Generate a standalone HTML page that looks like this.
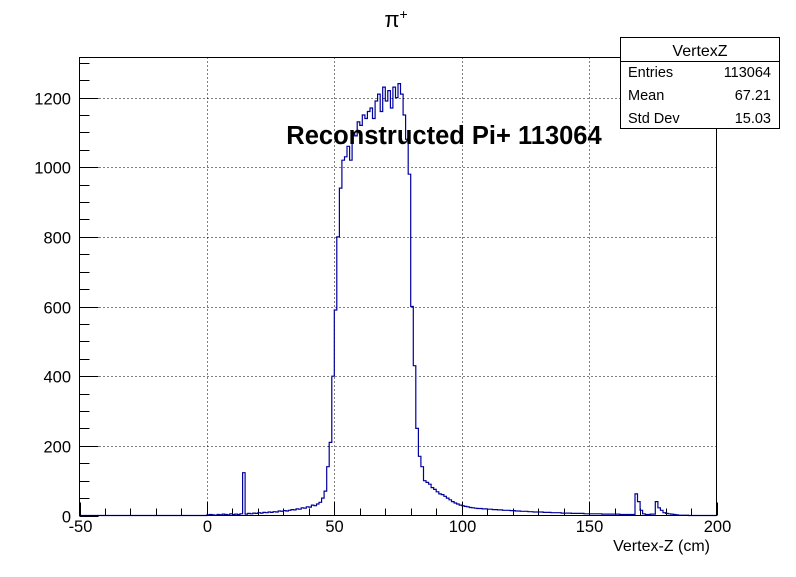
<!DOCTYPE html>
<html><head><meta charset="utf-8"><style>
body{margin:0;background:#fff;}
svg text{font-family:"Liberation Sans",sans-serif;}
</style></head><body>
<svg id="c" width="796" height="572" xmlns="http://www.w3.org/2000/svg">
<rect width="796" height="572" fill="#fff"/>
<text x="396" y="27" font-size="22" text-anchor="middle" font-family="Liberation Serif">π<tspan dy="-8" font-size="14">+</tspan></text>
<g id="grid"></g>
<g id="axes"></g>
<path id="hist" fill="none" stroke="#00009c" stroke-width="1.2"/>
<rect x="79.5" y="57.5" width="637" height="458" fill="none" stroke="#000"/>
<text x="444" y="144" font-size="25.5" font-weight="bold" text-anchor="middle">Reconstructed Pi+ 113064</text>
<text x="710" y="551" font-size="16" text-anchor="end">Vertex-Z (cm)</text>
<g>
<rect x="620.5" y="37.5" width="159" height="91" fill="#fff" stroke="#000"/>
<line x1="620" y1="61.5" x2="780" y2="61.5" stroke="#000"/>
<text x="700" y="56" font-size="16" text-anchor="middle">VertexZ</text>
<text x="628" y="77" font-size="14.5">Entries</text>
<text x="771" y="77" font-size="14.5" text-anchor="end">113064</text>
<text x="628" y="100" font-size="14.5">Mean</text>
<text x="771" y="100" font-size="14.5" text-anchor="end">67.21</text>
<text x="628" y="123" font-size="14.5">Std Dev</text>
<text x="771" y="123" font-size="14.5" text-anchor="end">15.03</text>
</g>
</svg>
<script>
const binStart = -50;
const binWidth = 1;
const counts = [
0,0,0,0,0,0,0,0,0,0,0,0,0,0,0,0,0,0,0,0,0,0,0,0,0,0,0,0,0,0,0,0,0,0,0,0,0,0,0,0,0,0,0,0,0,0,0,0,0,0,
2,3,2,1,3,2,4,3,2,5,3,4,3,5,123,
4,6,5,7,6,8,7,9,8,10,9,11,10,13,12,
14,13,15,17,16,19,18,22,21,25,24,30,28,33,38,
50,70,140,210,400,
590,800,940,1020,1030,1060,1020,1100,1090,1130,1120,1150,1140,1160,1170,1140,1190,1210,1160,1230,1190,1220,1170,1230,1200,1240,1210,1150,1080,980,
600,430,250,170,140,100,95,90,80,75,68,62,60,55,50,45,40,36,33,30,
28,26,25,23,22,21,20,20,19,19,
18,18,17,17,16,16,15,15,15,14,14,13,13,12,12,12,11,11,10,10,
10,10,9,9,9,8,8,8,8,7,7,7,7,6,6,6,6,6,5,5,
5,5,5,5,5,4,4,4,4,4,4,4,3,3,3,3,3,3,
62,40,15,5,3,3,4,4,40,22,15,8,6,5,4,3,2,
1,1,1,1,0,0,0,0,0,0,0,0,0,0,0
];
const xTicks = [-50,0,50,100,150,200];
const yTicks = [0,200,400,600,800,1000,1200];
const X0=79.5,X1=716.5,Y0=515.5,Y1=57.5,xmin=-50,xmax=200,ymax=1315;
const xs=v=>X0+(v-xmin)/(xmax-xmin)*(X1-X0);
const ys=c=>Y0-c/ymax*(Y0-Y1);
const NS="http://www.w3.org/2000/svg";
const grid=document.getElementById('grid'),axes=document.getElementById('axes');
function mk(tag,at,parent){const e=document.createElementNS(NS,tag);for(const k in at)e.setAttribute(k,at[k]);parent.appendChild(e);return e;}
xTicks.forEach(v=>{
  const x=Math.round(xs(v))+0.5;
  if(v>xmin&&v<xmax){const g=mk('line',{x1:x,x2:x,y1:Y1,y2:Y0,stroke:'#000','stroke-dasharray':'1,3'},grid);
  
  }
  const t=mk('line',{x1:x,x2:x,y1:Y0,y2:Y0-13,stroke:'#000'},axes);
  
  
  const l=mk('text',{x:x,y:532,'font-size':16.5,'text-anchor':'middle'},axes);l.textContent=v;
  
  
});
for(let v=xmin;v<=xmax;v+=10){if(v%50===0)continue;const x=Math.round(xs(v))+0.5;
  const t=mk('line',{x1:x,x2:x,y1:Y0,y2:Y0-7,stroke:'#000'},axes);
  
  }
yTicks.forEach(c=>{
  const y=Math.round(ys(c))+0.5;
  if(c>0){const g=mk('line',{x1:X0,x2:X1,y1:y,y2:y,stroke:'#000','stroke-dasharray':'1,3'},grid);
  
  }
  const t=mk('line',{x1:X0,x2:X0+19,y1:y,y2:y,stroke:'#000'},axes);
  
  
  const l=mk('text',{x:71,y:y+6,'font-size':16.5,'text-anchor':'end'},axes);l.textContent=c;
  
  
});
for(let c=50;c<ymax;c+=50){if(c%200===0)continue;const y=Math.round(ys(c))+0.5;
  const t=mk('line',{x1:X0,x2:X0+10,y1:y,y2:y,stroke:'#000'},axes);
  
  }
let d='M'+xs(binStart)+','+ys(0);
counts.forEach((c,i)=>{const a=xs(binStart+i*binWidth),b=xs(binStart+(i+1)*binWidth);d+=' L'+a.toFixed(1)+','+ys(c).toFixed(1)+' L'+b.toFixed(1)+','+ys(c).toFixed(1);});
document.getElementById('hist').setAttribute('d',d);
</script>
</body></html>
